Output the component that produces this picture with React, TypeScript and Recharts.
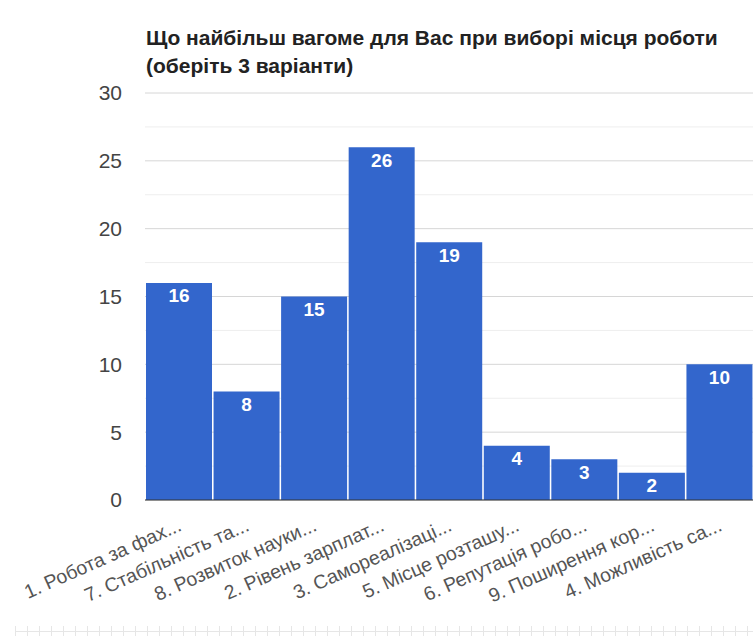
import React from 'react'
import { BarChart, Bar, XAxis, YAxis, CartesianGrid, ReferenceLine, LabelList } from 'recharts'

const categories = [
  '1. Робота за фах...',
  '7. Стабільність та...',
  '8. Розвиток науки...',
  '2. Рівень зарплат...',
  '3. Самореалізаці...',
  '5. Місце розташу...',
  '6. Репутація робо...',
  '9. Поширення кор...',
  '4. Можливість са...',
]
const votes = [16, 8, 15, 26, 19, 4, 3, 2, 10]
const majorTicks = [0, 5, 10, 15, 20, 25, 30]
const minorTicks = [2.5, 7.5, 12.5, 17.5, 22.5, 27.5]

const data = categories.map((name, i) => ({ name, value: votes[i] }))

const FONT = '"Liberation Sans", Arial, sans-serif'

function SlantTick({ x, y, payload }: any) {
  const ax = x + 4
  const ay = y + 22
  return (
    <text
      x={ax}
      y={ay}
      textAnchor="end"
      transform={`rotate(-24 ${ax} ${ay})`}
      fontSize={19.5}
      fill="#555"
      fontFamily={FONT}
    >
      {payload.value}
    </text>
  )
}

export default function App() {
  return (
    <div
      style={{
        position: 'absolute',
        left: 0,
        top: 0,
        width: 753,
        height: 641,
        overflow: 'hidden',
        background: '#fff',
        fontFamily: FONT,
      }}
    >
      <div
        style={{
          position: 'absolute',
          left: 146,
          top: 24,
          fontSize: 21,
          lineHeight: '28px',
          fontWeight: 'bold',
          color: '#222',
          whiteSpace: 'nowrap',
        }}
      >
        Що найбільш вагоме для Вас при виборі місця роботи
        <br />
        (оберіть 3 варіанти)
      </div>

      <BarChart
        width={753}
        height={641}
        data={data}
        margin={{ top: 93, right: 0, left: 0, bottom: 0 }}
        barCategoryGap={1}
      >
        {/* light half-step lines, then the main grid */}
        <CartesianGrid vertical={false} horizontalValues={minorTicks} stroke="#eeeeee" />
        <CartesianGrid vertical={false} stroke="#d6d6d6" />
        <XAxis
          dataKey="name"
          interval={0}
          height={141}
          axisLine={false}
          tickLine={false}
          tick={<SlantTick />}
        />
        <YAxis
          width={145}
          domain={[0, 30]}
          ticks={majorTicks}
          axisLine={false}
          tickLine={false}
          tickSize={0}
          tickMargin={23}
          tick={{ fontSize: 21, fill: '#444', fontFamily: FONT }}
        />
        <Bar dataKey="value" fill="#3366cc" isAnimationActive={false}>
          <LabelList
            dataKey="value"
            position="insideTop"
            offset={6}
            fill="#fff"
            fontSize={19}
            fontWeight="bold"
            fontFamily={FONT}
          />
        </Bar>
        <ReferenceLine y={0} stroke="#333" />
      </BarChart>

      {/* faint ruler strip along the bottom edge */}
      <div
        style={{
          position: 'absolute',
          left: 15,
          right: 0,
          top: 626,
          height: 10,
          backgroundImage:
            'linear-gradient(#e6e6e6, #e6e6e6), repeating-linear-gradient(to right, #e6e6e6 0 1px, transparent 1px 12px)',
          backgroundSize: '100% 1px, 100% 100%',
          backgroundPosition: '0 5px, 0 0',
          backgroundRepeat: 'no-repeat, repeat',
        }}
      />
    </div>
  )
}
